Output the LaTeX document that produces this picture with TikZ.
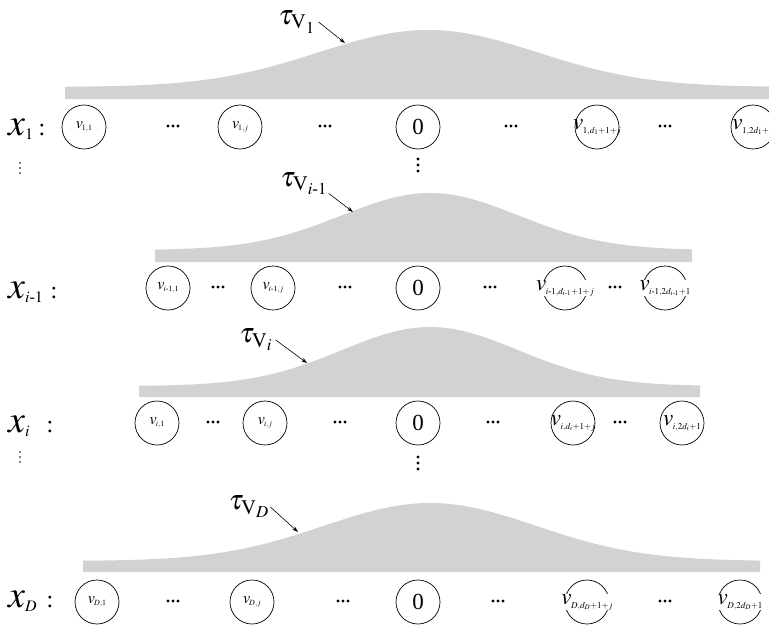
\documentclass[tikz,border=0pt]{standalone}
\usepackage{mathptmx}
\usepackage{amsmath}
\usepackage{fontspec}
\setmainfont{Liberation Serif}
\usetikzlibrary{arrows.meta}
\definecolor{curvegray}{RGB}{209,210,212}

% v with a small lowered index, in two sizes
\newcommand{\smallv}[1]{{\fontsize{16}{16}\selectfont$v$}\kern-1pt\raisebox{-2pt}{\fontsize{8}{8}\selectfont$#1$}}
\newcommand{\bigv}[1]{{\fontsize{23}{23}\selectfont$v$}\kern-0.5pt\raisebox{-4pt}{\fontsize{9}{9}\selectfont$#1$}}
% row name x with its index
\newcommand{\xrow}[1]{$x$\raisebox{-4pt}{\fontsize{16}{16}\selectfont$#1$}}

\begin{document}
\begin{tikzpicture}[x=1pt, y=-1pt,
    vert/.style={draw, circle, minimum size=44pt, inner sep=0pt, line width=0.7pt},
    vlabel/.style={inner sep=0.5pt},
    gaptext/.style={vlabel, fill=white, inner xsep=3pt},
    zero/.style={vert, font=\fontsize{23}{23}\selectfont},
    rowname/.style={anchor=base west, inner sep=0pt, font=\fontsize{38}{38}\selectfont},
    colon/.style={anchor=base, inner sep=0pt, font=\fontsize{24}{24}\selectfont},
    taulabel/.style={inner sep=0pt, font=\fontsize{28}{28}\selectfont},
    pointer/.style={-{Stealth[length=6pt,width=4pt]}, line width=0.6pt},
    rowdots/.style={minimum width=14pt, minimum height=4pt, inner sep=0pt,
        path picture={\foreach \k in {-1,0,1}
            \fill ([xshift=\k*5pt]path picture bounding box.center) circle (1.7pt);}},
    coldots/.style={minimum width=4pt, minimum height=18pt, inner sep=0pt,
        path picture={\foreach \k in {-1,0,1}
            \fill ([yshift=\k*6pt]path picture bounding box.center) circle (1.6pt);}},
    sidedots/.style={minimum width=3pt, minimum height=14pt, inner sep=0pt,
        path picture={\foreach \k in {-1,0,1}
            \fill ([yshift=\k*5pt]path picture bounding box.center) circle (0.9pt);}}]
    \clip (0,0) rectangle (769,627);

    % prior bumps over each coordinate
    \fill[curvegray] (65,99) -- plot[domain=65:775, samples=120]
        (\x, {87-57*exp(-((\x-428)/155)*((\x-428)/155))}) -- (775,99) -- cycle;
    \fill[curvegray] (155,262) -- plot[domain=155:692, samples=120]
        (\x, {250-57*exp(-((\x-430)/125)*((\x-430)/125))}) -- (692,262) -- cycle;
    \fill[curvegray] (139,397) -- plot[domain=139:700, samples=120]
        (\x, {386-59*exp(-((\x-430)/125)*((\x-430)/125))}) -- (700,397) -- cycle;
    \fill[curvegray] (83,572) -- plot[domain=83:760, samples=120]
        (\x, {561-58*exp(-((\x-430)/150)*((\x-430)/150))}) -- (760,572) -- cycle;

    % tau labels
    \node[taulabel] (tau1) at (297,22) {$\tau_{\mathrm{V}_1}$};
    \node[taulabel] (tau2) at (304,184) {$\tau_{\mathrm{V}_{i\text{-}1}}$};
    \node[taulabel] (tau3) at (256,340) {$\tau_{\mathrm{V}_i}$};
    \node[taulabel] (tau4) at (249,507) {$\tau_{\mathrm{V}_D}$};
    \coordinate (tip1) at (345,43);
    \coordinate (tip2) at (353,212);
    \coordinate (tip3) at (307,363);
    \coordinate (tip4) at (298,532);
    \draw[pointer] ([xshift=3pt]tau1.east) -- (tip1);
    \draw[pointer] ([xshift=1pt,yshift=2pt]tau2.south east) -- (tip2);
    \draw[pointer] ([xshift=3pt]tau3.east) -- (tip3);
    \draw[pointer] ([xshift=1pt]tau4.east) -- (tip4);

    % row x_1
    \node[rowname] (x1) at (8,135) {\xrow{1}};
    \node[colon] (c1) at (42,135) {:};
    \node[vert] (v11) at (84,127) {\smallv{1{,}1}};
    \node[vert] (v12) at (240,127) {\smallv{1{,}j}};
    \node[zero] (v13) at (418,127) {0};
    \node[vert] (v14) at (597,127) {};
    \node[vlabel] (l14) at (v14) {\bigv{1{,}d_1{+}1{+}j}};
    \node[vert] (v15) at (753,127) {};
    \node[vlabel] (l15) at (v15) {\bigv{1{,}2d_1{+}1}};
    \node[rowdots] (d11) at (173,126) {};
    \node[rowdots] (d12) at (325,126) {};
    \node[rowdots] (d13) at (511,126) {};
    \node[rowdots] (d14) at (665,126) {};
    \node[sidedots] (s1) at (20,168) {};
    \node[coldots] (m1) at (418,165) {};

    % row x_{i-1}
    \node[rowname] (x2) at (8,298) {\xrow{i\text{-}1}};
    \node[colon] (c2) at (54,298) {:};
    \node[vert] (v21) at (168,288) {\smallv{i\text{-}1{,}1}};
    \node[vert] (v22) at (273,288) {\smallv{i\text{-}1{,}j}};
    \node[zero] (v23) at (418,288) {0};
    \node[vert] (v24) at (565,288) {};
    \node[gaptext] (l24) at (v24) {\bigv{i\text{-}1{,}d_{i\text{-}1}{+}1{+}j}};
    \node[vert] (v25) at (665,288) {};
    \node[gaptext] (l25) at (v25) {\bigv{i\text{-}1{,}2d_{i\text{-}1}{+}1}};
    \node[rowdots] (d21) at (218,287) {};
    \node[rowdots] (d22) at (345,287) {};
    \node[rowdots] (d23) at (490,287) {};
    \node[rowdots] (d24) at (615,287) {};

    % row x_i
    \node[rowname] (x3) at (8,432) {\xrow{i}};
    \node[colon] (c3) at (50,432) {:};
    \node[vert] (v31) at (157,423) {\smallv{i{,}1}};
    \node[vert] (v32) at (265,423) {\smallv{i{,}j}};
    \node[zero] (v33) at (418,423) {0};
    \node[vert] (v34) at (573,423) {};
    \node[vlabel] (l34) at (v34) {\bigv{i{,}d_i{+}1{+}j}};
    \node[vert] (v35) at (682,423) {};
    \node[vlabel] (l35) at (v35) {\bigv{i{,}2d_i{+}1}};
    \node[rowdots] (d31) at (213,422) {};
    \node[rowdots] (d32) at (340,422) {};
    \node[rowdots] (d33) at (493,422) {};
    \node[rowdots] (d34) at (620,422) {};
    \node[sidedots] (s3) at (20,457) {};
    \node[coldots] (m3) at (418,463) {};

    % row x_D
    \node[rowname] (x4) at (8,607) {\xrow{D}};
    \node[colon] (c4) at (50,607) {:};
    \node[vert] (v41) at (97,602) {\smallv{D{,}1}};
    \node[vert] (v42) at (252,602) {\smallv{D{,}j}};
    \node[zero] (v43) at (418,602) {0};
    \node[vert] (v44) at (587,602) {};
    \node[gaptext] (l44) at (v44) {\bigv{D{,}d_D{+}1{+}j}};
    \node[vert] (v45) at (740,602) {};
    \node[gaptext] (l45) at (v45) {\bigv{D{,}2d_D{+}1}};
    \node[rowdots] (d41) at (173,601) {};
    \node[rowdots] (d42) at (343,601) {};
    \node[rowdots] (d43) at (498,601) {};
    \node[rowdots] (d44) at (665,601) {};
\end{tikzpicture}
\end{document}
